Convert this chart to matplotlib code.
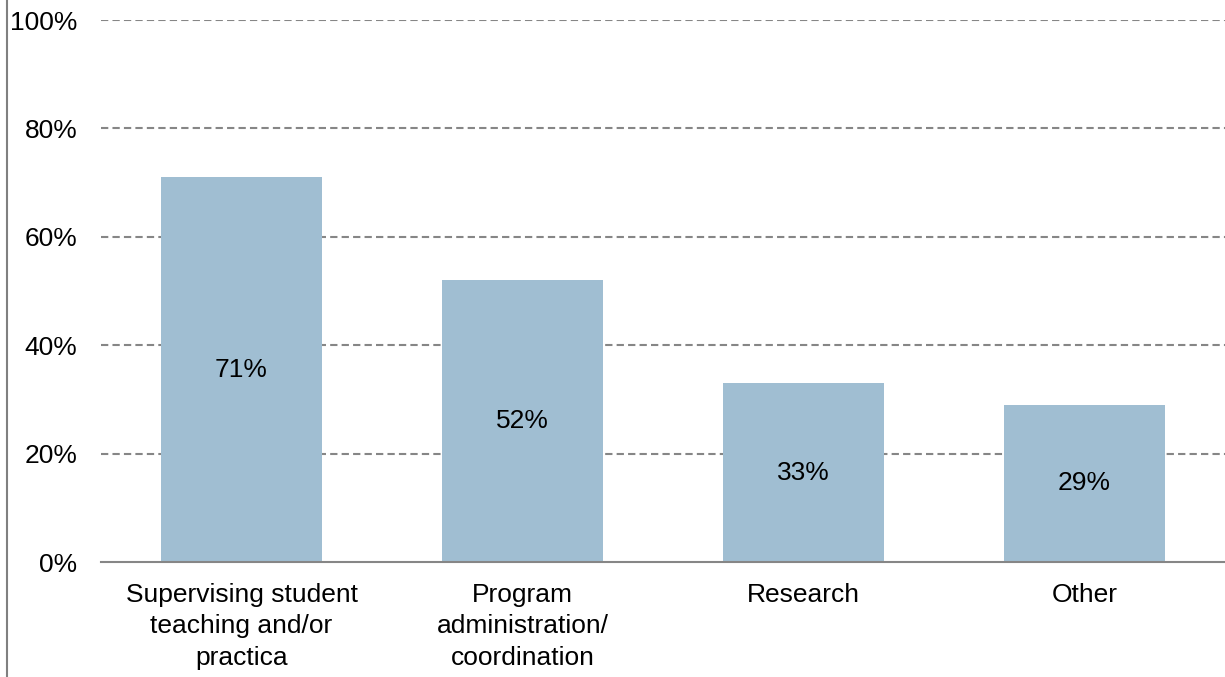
import matplotlib
matplotlib.use("Agg")
import matplotlib.pyplot as plt
from matplotlib.lines import Line2D
import matplotlib.ticker as mticker

categories = [
    "Supervising student\nteaching and/or\npractica",
    "Program\nadministration/\ncoordination",
    "Research",
    "Other",
]
values = [71, 52, 33, 29]
y_ticks = [0, 20, 40, 60, 80, 100]

BAR_COLOR = "#A0BED2"
GRID_COLOR = "#868686"
FS = 19

plt.rcParams["font.family"] = ["Liberation Sans", "DejaVu Sans"]

fig = plt.figure(figsize=(12.25, 6.77), dpi=100)
ax = fig.add_axes([101 / 1225, 1 - 562 / 677, 1 - 101 / 1225, (562 - 20) / 677])

x = range(len(categories))
bars = ax.bar(x, values, width=0.573, color=BAR_COLOR, zorder=2)
for b, v in zip(bars, values):
    ax.text(b.get_x() + b.get_width() / 2, v / 2, f"{v}%", ha="center", va="center",
            fontsize=FS, color="black", zorder=3)

ax.set_xlim(-0.5, len(categories) - 0.5)
ax.set_ylim(0, 100)
ax.set_yticks(y_ticks)
ax.yaxis.set_major_formatter(mticker.FuncFormatter(lambda v, _: f"{v:.0f}%"))
ax.set_xticks(list(x))
ax.set_xticklabels(categories, fontsize=FS, linespacing=1.4)
ax.tick_params(axis="both", length=0, labelsize=FS)
ax.tick_params(axis="y", pad=17)
ax.tick_params(axis="x", pad=15)

for y in y_ticks[1:]:
    ax.axhline(y, color=GRID_COLOR, linestyle=(0, (3.5, 2)), linewidth=1.5, zorder=1)

for s in ["top", "right", "left"]:
    ax.spines[s].set_visible(False)
ax.spines["bottom"].set_color(GRID_COLOR)
ax.spines["bottom"].set_linewidth(1.5)
ax.spines["bottom"].set_zorder(3)

# outer frame line on the left edge
fig.add_artist(Line2D([6.5 / 1225, 6.5 / 1225], [0, 1], color="#808080", linewidth=1.5,
                      transform=fig.transFigure))

fig.savefig("out.png", dpi=100)
